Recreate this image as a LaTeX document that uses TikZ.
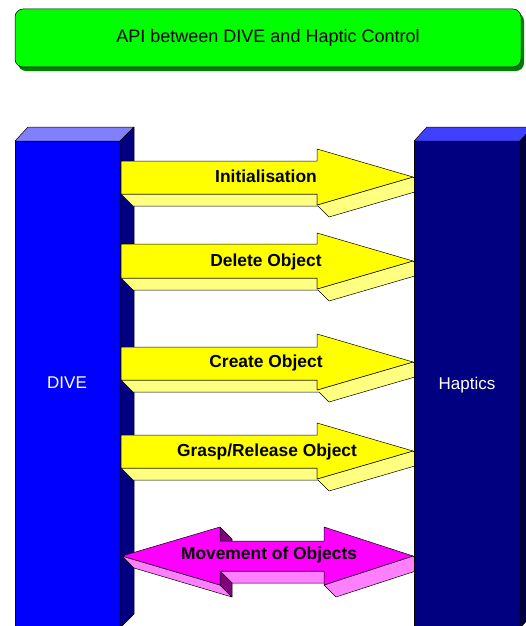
\documentclass[tikz,border=0pt]{standalone}
\usepackage{fontspec}
\setmainfont{Liberation Sans}
\usepackage{tikz}
\usetikzlibrary{shadows}

\definecolor{titlegreen}{RGB}{0,255,0}
\definecolor{titleshadow}{RGB}{0,128,0}
\definecolor{divefront}{RGB}{0,0,255}
\definecolor{divetop}{RGB}{128,128,255}
\definecolor{diveside}{RGB}{0,0,128}
\definecolor{hapfront}{RGB}{0,0,128}
\definecolor{haptop}{RGB}{64,64,255}
\definecolor{hapside}{RGB}{0,0,64}
\definecolor{yellowfront}{RGB}{255,255,0}
\definecolor{yellowside}{RGB}{255,255,128}
\definecolor{magfront}{RGB}{255,0,255}
\definecolor{magside}{RGB}{255,128,255}
\definecolor{magdark}{RGB}{128,0,128}

\begin{document}
\begin{tikzpicture}[x=1pt,y=-1pt,
  face/.style={draw=black,line width=0.5pt,line join=round},
  titlebox/.style={draw=black,line width=0.5pt,fill=titlegreen,rounded corners=8pt,
    minimum width=506pt,minimum height=58pt,inner sep=0pt,
    font=\fontsize{18}{21}\selectfont,
    drop shadow={shadow xshift=3pt,shadow yshift=-4pt,fill=titleshadow,opacity=1}},
  arrowtext/.style={font=\fontsize{17.4}{20}\selectfont\bfseries,inner sep=0pt,anchor=base},
  columntext/.style={font=\fontsize{17}{20}\selectfont,text=white,inner sep=0pt,anchor=base}]
\useasboundingbox (0,0) rectangle (526,626);

% title
\node [titlebox] (title) at (268,38) {API between DIVE and Haptic Control};

% DIVE column
\draw [face,fill=divefront] (15,141) rectangle (120,628);
\draw [face,fill=divetop] (15,141) -- (28,127) -- (134,127) -- (120,141) -- cycle;
\draw [face,fill=diveside] (120,141) -- (134,127) -- (134,614) -- (120,628) -- cycle;

% yellow arrows
\draw [face,fill=yellowside] (121,194) -- (133,206) -- (318,206) -- (329,217) -- (425,189) -- (413,177) -- (317,205) -- (317,194) -- cycle;
\draw [face,fill=yellowfront] (121,161) -- (317,161) -- (317,149) -- (413,177) -- (317,205) -- (317,194) -- (121,194) -- cycle;
\draw [face,fill=yellowside] (121,278) -- (133,290) -- (318,290) -- (329,301) -- (425,273) -- (413,261) -- (317,289) -- (317,278) -- cycle;
\draw [face,fill=yellowfront] (121,244) -- (317,244) -- (317,233) -- (413,261) -- (317,289) -- (317,278) -- (121,278) -- cycle;
\draw [face,fill=yellowside] (121,380) -- (133,392) -- (319,392) -- (329,402) -- (425,374) -- (413,362) -- (317,390) -- (317,380) -- cycle;
\draw [face,fill=yellowfront] (121,347) -- (317,347) -- (317,334) -- (413,362) -- (317,390) -- (317,380) -- (121,380) -- cycle;
\draw [face,fill=yellowside] (121,468) -- (133,480) -- (318,480) -- (329,491) -- (425,463) -- (413,451) -- (317,479) -- (317,468) -- cycle;
\draw [face,fill=yellowfront] (121,435) -- (317,435) -- (317,423) -- (413,451) -- (317,479) -- (317,468) -- (121,468) -- cycle;

% magenta double arrow
\draw [face,fill=magside] (122,556) -- (220,585) -- (232,597) -- (134,568) -- cycle;
\draw [face,fill=magside] (220,571) -- (324,571) -- (336,583) -- (232,583) -- cycle;
\draw [face,fill=magside] (324,585) -- (413,556) -- (425,568) -- (336,597) -- cycle;
\draw [face,fill=magdark] (220,527) -- (232,539) -- (232,553) -- (220,541) -- cycle;
\draw [face,fill=magdark] (220,571) -- (232,583) -- (232,597) -- (220,585) -- cycle;
\draw [face,fill=magfront] (122,556) -- (220,527) -- (220,541) -- (324,541) -- (324,527) -- (413,556) -- (324,585) -- (324,571) -- (220,571) -- (220,585) -- cycle;

% Haptics column
\draw [face,fill=hapfront] (414,141) rectangle (520,628);
\draw [face,fill=haptop] (414,141) -- (427,127) -- (533,127) -- (520,141) -- cycle;
\draw [face,fill=hapside] (520,141) -- (533,127) -- (533,614) -- (520,628) -- cycle;

% labels
\node [columntext] (dive) at (67,388) {DIVE};
\node [columntext] (haptics) at (467,389) {Haptics};
\node [arrowtext] (init) at (266,182) {Initialisation};
\node [arrowtext] (delete) at (266,266) {Delete Object};
\node [arrowtext] (create) at (266,367) {Create Object};
\node [arrowtext] (grasp) at (267,456) {Grasp/Release Object};
\node [arrowtext] (movement) at (269,559) {Movement of Objects};
\end{tikzpicture}
\end{document}
